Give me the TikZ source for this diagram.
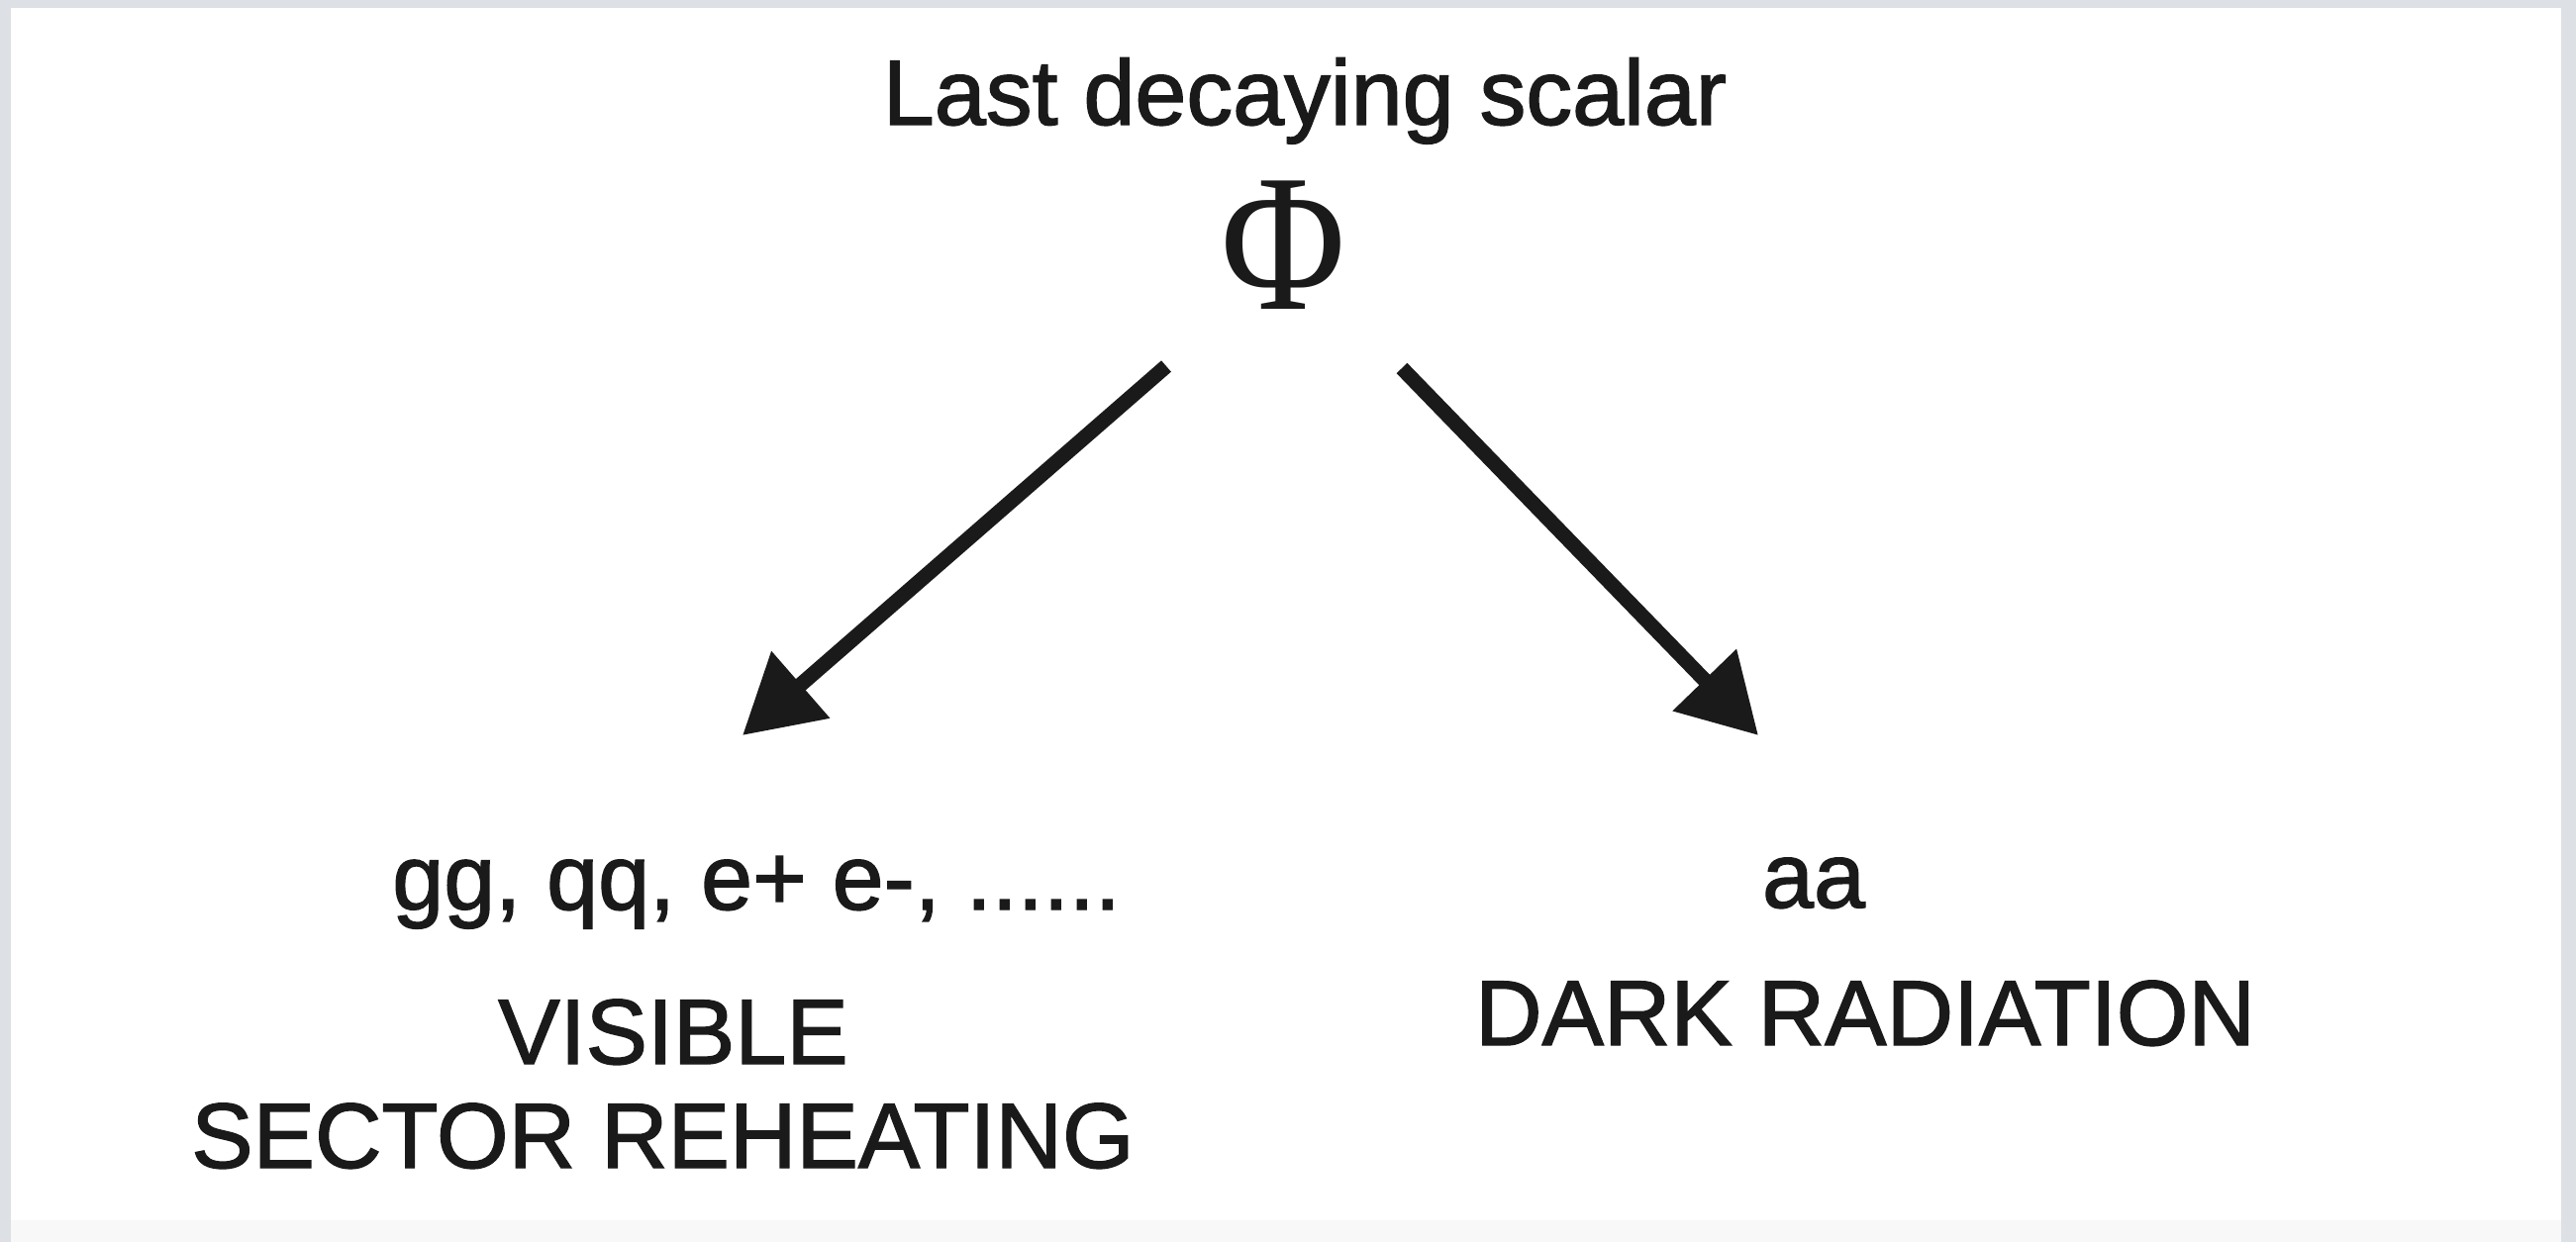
\documentclass[tikz,border=0pt]{standalone}
\usepackage[no-math]{fontspec}
\setmainfont{Liberation Sans}[FakeBold=1.5]
\newfontfamily\phifont{Liberation Serif}
\usetikzlibrary{arrows.meta}
\definecolor{ink}{HTML}{1A1A1A}
\definecolor{frame}{HTML}{DDE0E4}
\definecolor{strip}{HTML}{F8F8F8}
\begin{document}
\begin{tikzpicture}[x=0.5pt,y=-0.5pt,
  lbl/.style={inner sep=0, anchor=base, text=ink, font=\fontsize{46.75}{56}\selectfont},
  sym/.style={inner sep=0, anchor=base, text=ink, font=\phifont\fontsize{99}{110}\selectfont},
  arr/.style={draw=ink, line width=7.5pt, -{Triangle[length=39pt,width=43pt]}}]
\useasboundingbox (0,0) rectangle (2602,1255);
\fill[frame] (0,0) rectangle (2602,1255);
\fill[strip] (11,1233) rectangle (2587,1255);
\fill[white] (11,8) rectangle (2587,1233);
\node[lbl] (title) at (1318,126) {Last decaying scalar};
\node[sym, xscale=0.87] (phi) at (1296,312) {Φ};
\coordinate (lA) at (1178,370);
\coordinate (lB) at (750,743);
\coordinate (rA) at (1416,372);
\coordinate (rB) at (1776,743);
\draw[arr] (lA) -- (lB);
\draw[arr] (rA) -- (rB);
\node[lbl] (vis) at (764,919) {gg, qq, e+ e-, ......};
\node[lbl] (vis1) at (680,1075) {VISIBLE};
\node[lbl] (vis2) at (669.5,1180) {SECTOR REHEATING};
\node[lbl] (dark) at (1832,917) {aa};
\node[lbl] (dark1) at (1884,1056) {DARK RADIATION};
\end{tikzpicture}
\end{document}
